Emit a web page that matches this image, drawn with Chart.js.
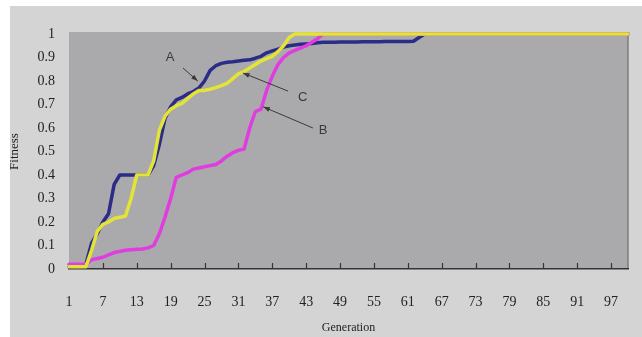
<!DOCTYPE html>
<html>
<head>
<meta charset="utf-8">
<script src="https://cdn.jsdelivr.net/npm/chart.js@4/dist/chart.umd.min.js"></script>
<style>
  html, body { margin: 0; padding: 0; background: #fff; }
  #wrap { width: 642px; height: 337px; }
</style>
</head>
<body>
<div id="wrap"><canvas id="c" width="642" height="337"></canvas></div>
<script>
// generations 1..100 on the x axis
const generations = [];
for (let g = 1; g <= 100; g++) generations.push(String(g));

const yTicks = [0, 0.1, 0.2, 0.3, 0.4, 0.5, 0.6, 0.7, 0.8, 0.9, 1];

// curve A (navy)
const fitnessA = [
  0.01, 0.01, 0.01, 0.02, 0.11, 0.15, 0.2, 0.235, 0.36, 0.4,
  0.4, 0.4, 0.4, 0.4, 0.4, 0.44, 0.53, 0.64, 0.69, 0.72,
  0.73, 0.745, 0.755, 0.77, 0.8, 0.845, 0.865, 0.875, 0.88, 0.882,
  0.885, 0.888, 0.89, 0.897, 0.905, 0.92, 0.928, 0.935, 0.945, 0.95,
  0.953, 0.956, 0.958, 0.96, 0.963, 0.965, 0.965, 0.965, 0.966, 0.966,
  0.966, 0.966, 0.967, 0.967, 0.967, 0.967, 0.968, 0.968, 0.968, 0.968,
  0.968, 0.969, 0.985, 1, 1, 1, 1, 1, 1, 1,
  1, 1, 1, 1, 1, 1, 1, 1, 1, 1,
  1, 1, 1, 1, 1, 1, 1, 1, 1, 1,
  1, 1, 1, 1, 1, 1, 1, 1, 1, 1
];

// curve B (magenta)
const fitnessB = [
  0.02, 0.02, 0.02, 0.02, 0.04, 0.045, 0.05, 0.06, 0.07, 0.075,
  0.08, 0.082, 0.084, 0.085, 0.09, 0.1, 0.15, 0.22, 0.3, 0.39,
  0.4, 0.41, 0.425, 0.43, 0.435, 0.44, 0.445, 0.46, 0.48, 0.495,
  0.505, 0.51, 0.6, 0.67, 0.68, 0.76, 0.82, 0.87, 0.9, 0.92,
  0.93, 0.94, 0.95, 0.965, 0.98, 1, 1, 1, 1, 1,
  1, 1, 1, 1, 1, 1, 1, 1, 1, 1,
  1, 1, 1, 1, 1, 1, 1, 1, 1, 1,
  1, 1, 1, 1, 1, 1, 1, 1, 1, 1,
  1, 1, 1, 1, 1, 1, 1, 1, 1, 1,
  1, 1, 1, 1, 1, 1, 1, 1, 1, 1
];

// curve C (yellow)
const fitnessC = [
  0.01, 0.01, 0.01, 0.01, 0.08, 0.16, 0.19, 0.2, 0.215, 0.22,
  0.225, 0.3, 0.4, 0.4, 0.4, 0.46, 0.59, 0.65, 0.68, 0.695,
  0.705, 0.725, 0.745, 0.76, 0.76, 0.765, 0.772, 0.78, 0.79, 0.81,
  0.83, 0.84, 0.855, 0.87, 0.885, 0.895, 0.905, 0.925, 0.95, 0.985,
  1, 1, 1, 1, 1, 1, 1, 1, 1, 1,
  1, 1, 1, 1, 1, 1, 1, 1, 1, 1,
  1, 1, 1, 1, 1, 1, 1, 1, 1, 1,
  1, 1, 1, 1, 1, 1, 1, 1, 1, 1,
  1, 1, 1, 1, 1, 1, 1, 1, 1, 1,
  1, 1, 1, 1, 1, 1, 1, 1, 1, 1
];

// callout labels, in generation / fitness units
const callouts = [
  { text: 'A', at: [18.9, 0.9], from: [21.2, 0.855], to: [23.8, 0.8] },
  { text: 'C', at: [42.4, 0.73], from: [39.8, 0.757], to: [31.8, 0.834] },
  { text: 'B', at: [46.0, 0.59], from: [44.2, 0.6], to: [35.4, 0.69] }
];

const serif = "'Liberation Serif', 'DejaVu Serif', serif";

const backdrop = {
  id: 'backdrop',
  beforeDraw(chart) {
    const ctx = chart.ctx;
    const a = chart.chartArea;
    ctx.save();
    ctx.fillStyle = '#ffffff';
    ctx.fillRect(0, 0, chart.width, chart.height);
    ctx.fillStyle = '#d4d4d4';
    ctx.fillRect(10, 6, 632, 331);
    ctx.fillStyle = '#aaaaac';
    ctx.fillRect(a.left, a.top - 2, a.right - a.left, a.bottom - a.top + 2);
    ctx.strokeStyle = '#7c7c7e';
    ctx.lineWidth = 1.5;
    ctx.beginPath();
    ctx.moveTo(a.right, a.top - 2);
    ctx.lineTo(a.right, a.bottom);
    ctx.stroke();
    ctx.restore();
  },
  afterDatasetsDraw(chart) {
    const ctx = chart.ctx;
    const x = chart.scales.x;
    const y = chart.scales.y;
    const a = chart.chartArea;
    ctx.save();
    // small tick marks pointing up from the axis
    ctx.strokeStyle = '#333';
    ctx.lineWidth = 1.2;
    for (let i = 6; i < generations.length; i += 6) {
      const px = Math.round(x.getPixelForValue(i)) + 0.5;
      ctx.beginPath();
      ctx.moveTo(px, a.bottom);
      ctx.lineTo(px, a.bottom - 6);
      ctx.stroke();
    }
    // callouts
    ctx.font = "13px 'Liberation Sans', Arial, sans-serif";
    ctx.fillStyle = '#3a3a3a';
    ctx.textAlign = 'center';
    ctx.textBaseline = 'middle';
    for (const c of callouts) {
      const tx = x.getPixelForValue(c.at[0] - 1), ty = y.getPixelForValue(c.at[1]);
      ctx.fillText(c.text, tx, ty);
      const x1 = x.getPixelForValue(c.from[0] - 1), y1 = y.getPixelForValue(c.from[1]);
      const x2 = x.getPixelForValue(c.to[0] - 1), y2 = y.getPixelForValue(c.to[1]);
      ctx.strokeStyle = '#3a3a3a';
      ctx.lineWidth = 1;
      ctx.beginPath();
      ctx.moveTo(x1, y1);
      ctx.lineTo(x2, y2);
      ctx.stroke();
      const ang = Math.atan2(y2 - y1, x2 - x1);
      ctx.beginPath();
      ctx.moveTo(x2, y2);
      ctx.lineTo(x2 - 7 * Math.cos(ang - 0.35), y2 - 7 * Math.sin(ang - 0.35));
      ctx.lineTo(x2 - 7 * Math.cos(ang + 0.35), y2 - 7 * Math.sin(ang + 0.35));
      ctx.closePath();
      ctx.fill();
    }
    ctx.restore();
  }
};

const ctx = document.getElementById('c');
new Chart(ctx, {
  type: 'line',
  data: {
    labels: generations,
    datasets: [
      // higher order is drawn first: navy at the bottom, yellow on top
      { label: 'A', data: fitnessA, borderColor: '#2b2b88', order: 3 },
      { label: 'B', data: fitnessB, borderColor: '#e03ce0', order: 2 },
      { label: 'C', data: fitnessC, borderColor: '#e4e436', order: 1 }
    ]
  },
  options: {
    responsive: false,
    animation: false,
    devicePixelRatio: 1,
    layout: { padding: { top: 34, right: 14, left: 0, bottom: 0 } },
    elements: {
      line: { borderWidth: 3.5, tension: 0, borderJoinStyle: 'round', borderCapStyle: 'round' },
      point: { radius: 0 }
    },
    datasets: { line: { clip: false } },
    plugins: {
      legend: { display: false },
      tooltip: { enabled: false }
    },
    scales: {
      x: {
        type: 'category',
        offset: false,
        grid: { display: false, drawTicks: false },
        border: { display: true, color: '#333', width: 1.5 },
        afterFit(scale) {
          scale.height = 68;
          scale.paddingLeft = 0;
          scale.paddingRight = 0;
        },
        ticks: {
          autoSkip: false,
          maxRotation: 0,
          padding: 25,
          color: '#222',
          font: { family: serif, size: 14 },
          callback(value, index) { return index % 6 === 0 ? generations[index] : ''; }
        },
        title: {
          display: true,
          text: 'Generation',
          color: '#222',
          font: { family: serif, size: 12 },
          padding: { top: 0, bottom: 2 }
        }
      },
      y: {
        min: 0,
        max: 1,
        grid: { display: false, drawTicks: false },
        border: { display: false },
        afterFit(scale) {
          scale.width = 69;
          scale.paddingTop = 0;
          scale.paddingBottom = 0;
        },
        afterBuildTicks(scale) { scale.ticks = yTicks.map(v => ({ value: v })); },
        ticks: {
          padding: 14,
          color: '#222',
          font: { family: serif, size: 14 },
          callback(value) { return String(+value.toFixed(1)); }
        },
        title: {
          display: true,
          text: 'Fitness',
          color: '#222',
          font: { family: serif, size: 13 },
          padding: { top: 7, bottom: 0 }
        }
      }
    }
  },
  plugins: [backdrop]
});
</script>
</body>
</html>
